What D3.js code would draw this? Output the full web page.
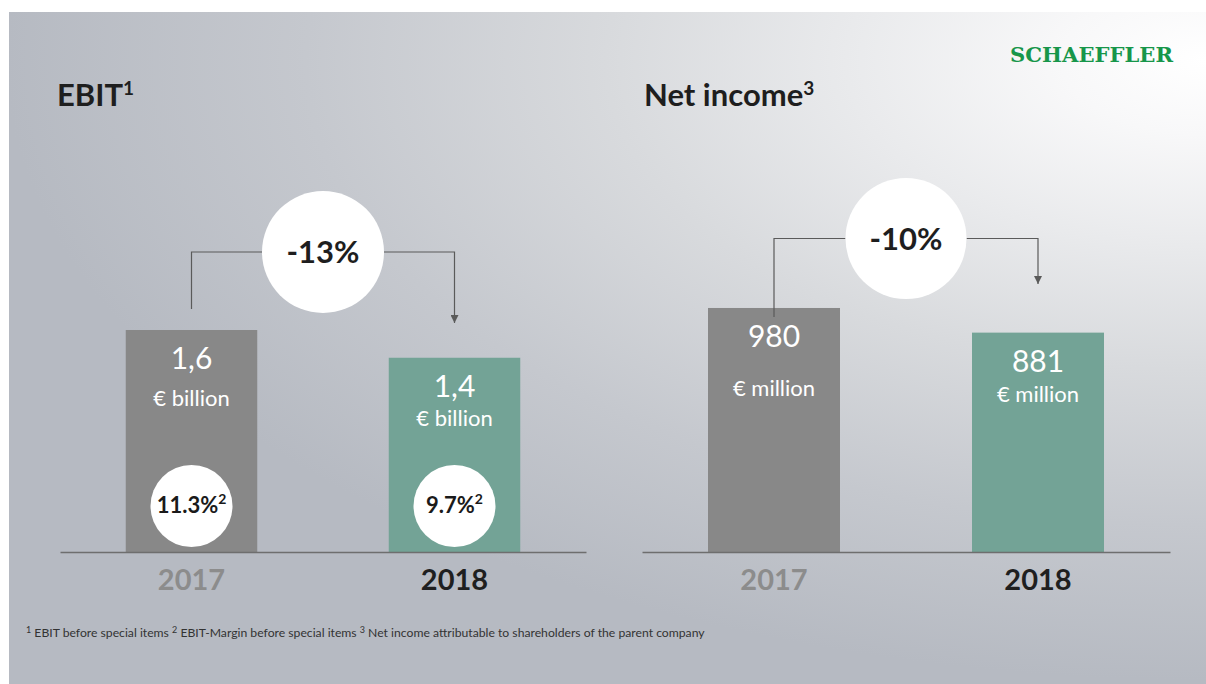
<!DOCTYPE html>
<html>
<head>
<meta charset="utf-8">
<script src="https://cdn.jsdelivr.net/npm/d3@7/dist/d3.min.js"></script>
<style>
  html, body { margin: 0; padding: 0; background: #ffffff; }
  svg { display: block; }
  text { font-family: Lato, "Open Sans", sans-serif; }
</style>
</head>
<body>
<svg id="chart" width="1206" height="684"></svg>
<script>
// ---- data ----
const years = ["2017", "2018"];
const ebitValues = [1.6, 1.4];            // € billion
const ebitLabels = ["1,6", "1,4"];
const ebitMargins = ["11.3%", "9.7%"];
const netIncomeValues = [980, 881];       // € million
const netIncomeLabels = ["980", "881"];
const changeLabels = ["-13%", "-10%"];
const panelTitles = ["EBIT", "Net income"];
const titleNotes = ["1", "3"];
const units = ["€ billion", "€ million"];
const footnotes = [
  ["1", " EBIT before special items "],
  ["2", " EBIT-Margin before special items "],
  ["3", " Net income attributable to shareholders of the parent company"]
];

const W = 1206, H = 684;
const svg = d3.select("#chart");
const defs = svg.append("defs");

// slide background: soft light spot in the upper right, grey towards the edges
const grad = defs.append("radialGradient")
  .attr("id", "bg")
  .attr("gradientUnits", "userSpaceOnUse")
  .attr("cx", 0).attr("cy", 0).attr("r", 1)
  .attr("gradientTransform", "translate(1206,60) scale(1200,620)");
[[0, "#ffffff"], [0.12, "#f8f8f9"], [0.3, "#e9eaec"], [0.5, "#d8dadd"],
 [0.75, "#c5c8ce"], [1, "#b6bac2"]].forEach(([o, c]) =>
  grad.append("stop").attr("offset", o).attr("stop-color", c));

svg.append("rect").attr("x", 9).attr("y", 12)
  .attr("width", W - 9).attr("height", H - 12)
  .attr("fill", "url(#bg)");

// arrowhead, drawn along the path direction
defs.append("marker")
  .attr("id", "arrow")
  .attr("viewBox", "0 0 10 10")
  .attr("refX", 10).attr("refY", 5)
  .attr("markerWidth", 9).attr("markerHeight", 8)
  .attr("markerUnits", "userSpaceOnUse")
  .attr("orient", "auto")
  .append("path").attr("d", "M0,0 L10,5 L0,10 Z").attr("fill", "#5a5a5a");

// logo
svg.append("text")
  .attr("x", 1010).attr("y", 62)
  .attr("textLength", 163).attr("lengthAdjust", "spacingAndGlyphs")
  .style("font-family", "'DejaVu Serif', serif")
  .style("font-weight", 700).style("font-size", "21px")
  .attr("fill", "#17964a")
  .text("SCHAEFFLER");

const barColors = ["#888888", "#73a396"];
const yearColors = ["#8c8c8c", "#1f1f1f"];
const baseY = 552;

const panels = [
  {
    values: ebitValues, labels: ebitLabels, unit: units[0],
    title: panelTitles[0], note: titleNotes[0], change: changeLabels[0],
    xRange: [60, 586], yDomainMax: 2, yTop: 274.5,
    titleX: 57, unitGap: [37, 29],
    bracketY: 252, startY: 309, arrowY: 323, circleR: 61,
    margins: ebitMargins
  },
  {
    values: netIncomeValues, labels: netIncomeLabels, unit: units[1],
    title: panelTitles[1], note: titleNotes[1], change: changeLabels[1],
    xRange: [642, 1170], yDomainMax: 1200, yTop: 253.2,
    titleX: 644, unitGap: [49, 30],
    bracketY: 238.5, startY: 317, arrowY: 284, circleR: 60.5,
    margins: null
  }
];

panels.forEach(p => {
  const g = svg.append("g");

  const x = d3.scaleBand().domain(years).range(p.xRange)
    .paddingInner(0.5).paddingOuter(0.25);
  const y = d3.scaleLinear().domain([0, p.yDomainMax]).range([baseY, p.yTop]);
  const cx = d => x(d) + x.bandwidth() / 2;

  // title with footnote marker
  const t = g.append("text").attr("x", p.titleX).attr("y", 106)
    .attr("fill", "#1e1e1e").style("font-size", "31px").style("font-weight", 700);
  t.append("tspan").text(p.title);
  t.append("tspan").attr("dy", -11).style("font-size", "19px").text(p.note);

  // bars
  g.selectAll("rect.bar").data(years).join("rect")
    .attr("class", "bar")
    .attr("x", d => x(d))
    .attr("y", (d, i) => y(p.values[i]))
    .attr("width", x.bandwidth())
    .attr("height", (d, i) => baseY - y(p.values[i]))
    .attr("fill", (d, i) => barColors[i]);

  // baseline + year labels
  const axis = g.append("g").attr("transform", `translate(0,${baseY})`)
    .call(d3.axisBottom(x).tickSize(0).tickSizeOuter(0));
  axis.select(".domain").attr("stroke", "#6e6e6e").attr("stroke-width", 1.6);
  axis.selectAll(".tick text")
    .attr("y", 38).attr("dy", 0)
    .style("font-family", "Lato, 'Open Sans', sans-serif")
    .style("font-size", "29px").style("font-weight", 700)
    .attr("fill", (d, i) => yearColors[i]);

  // value labels inside bars
  g.selectAll("text.val").data(years).join("text")
    .attr("class", "val")
    .attr("x", cx)
    .attr("y", (d, i) => y(p.values[i]) + 39)
    .attr("text-anchor", "middle").attr("fill", "#ffffff")
    .style("font-size", "30px")
    .text((d, i) => p.labels[i]);

  g.selectAll("text.unit").data(years).join("text")
    .attr("class", "unit")
    .attr("x", cx)
    .attr("y", (d, i) => y(p.values[i]) + 39 + p.unitGap[i])
    .attr("text-anchor", "middle").attr("fill", "#ffffff")
    .style("font-size", "22px")
    .text(p.unit);

  // margin bubbles
  if (p.margins) {
    const m = g.selectAll("g.margin").data(years).join("g")
      .attr("class", "margin")
      .attr("transform", (d, i) => `translate(${cx(d)},${baseY - 46})`);
    m.append("circle").attr("r", 41).attr("fill", "#ffffff");
    const mt = m.append("text").attr("y", 7).attr("text-anchor", "middle")
      .attr("fill", "#1a1a1a").style("font-size", "22px").style("font-weight", 700);
    mt.append("tspan").text((d, i) => p.margins[i]);
    mt.append("tspan").attr("dy", -9).style("font-size", "14px").text("2");
  }

  // change bracket with arrow
  const x0 = cx(years[0]), x1 = cx(years[1]);
  const mid = (x0 + x1) / 2;
  g.append("path")
    .attr("d", `M${x0},${p.startY} V${p.bracketY} H${mid - p.circleR}`)
    .attr("fill", "none").attr("stroke", "#5a5a5a").attr("stroke-width", 1.2);
  g.append("path")
    .attr("d", `M${mid + p.circleR},${p.bracketY} H${x1} V${p.arrowY}`)
    .attr("fill", "none").attr("stroke", "#5a5a5a").attr("stroke-width", 1.2)
    .attr("marker-end", "url(#arrow)");
  g.append("circle").attr("cx", mid).attr("cy", p.bracketY).attr("r", p.circleR)
    .attr("fill", "#ffffff");
  g.append("text").attr("x", mid).attr("y", p.bracketY + 11)
    .attr("text-anchor", "middle").attr("fill", "#1e1e1e")
    .style("font-size", "31px").style("font-weight", 700)
    .text(p.change);
});

// footnotes
const fn = svg.append("text").attr("x", 26).attr("y", 637)
  .attr("fill", "#333333").style("font-size", "12.2px");
footnotes.forEach(([n, s]) => {
  fn.append("tspan").attr("dy", -4).style("font-size", "9px").text(n);
  fn.append("tspan").attr("dy", 4).text(s);
});
</script>
</body>
</html>
